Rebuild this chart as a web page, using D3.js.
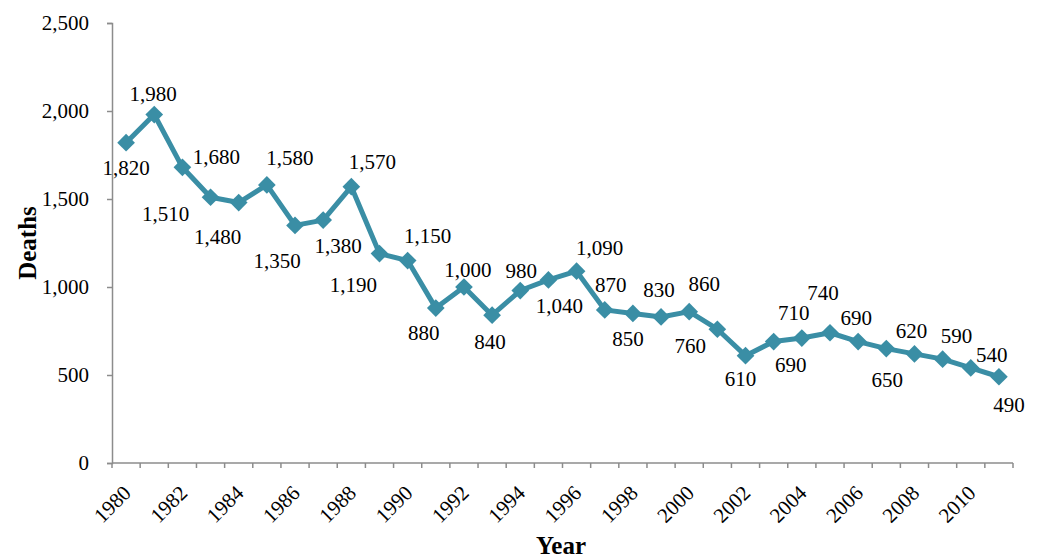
<!DOCTYPE html>
<html>
<head>
<meta charset="utf-8">
<script src="https://cdn.jsdelivr.net/npm/d3@7"></script>
<style>
  body { margin: 0; background: #fff; }
  svg { display: block; font-family: "Liberation Serif", "Times New Roman", serif; }
</style>
</head>
<body>
<svg id="chart" width="1039" height="558"></svg>
<script>
const years = d3.range(1980, 2012);
const deaths = [1820, 1980, 1680, 1510, 1480, 1580, 1350, 1380, 1570, 1190,
  1150, 880, 1000, 840, 980, 1040, 1090, 870, 850, 830,
  860, 760, 610, 690, 710, 740, 690, 650, 620, 590, 540, 490];
const yTicks = [0, 500, 1000, 1500, 2000, 2500];

// label placement next to each point (dx, dy in px)
const labelOffsets = [
  [0, 25], [-1, -21], [34, -11], [-45, 16], [-21, 34], [23, -27], [-18, 35], [15, 26],
  [21, -25], [-26, 31], [20, -25], [-12, 25], [4, -17], [-2, 26], [1, -20], [11, 26],
  [23, -24], [6, -25], [-5, 25], [-2, -27], [15, -28], [-27, 16], [-5, 23], [17, 23],
  [-8, -25], [-7, -40], [-2, -24], [1, 31], [-3, -23], [14, -24], [21, -13], [10, 28]
];

const width = 1039;
const height = 558;
const margin = { top: 23, right: 26, bottom: 95, left: 112 };
const lineColor = "#3a8ea5";
const axisColor = "#8c8c8c";
const fontSize = 21;

const svg = d3.select("#chart");

const x = d3.scaleBand()
  .domain(years)
  .range([margin.left, width - margin.right]);

const y = d3.scaleLinear()
  .domain([0, 2500])
  .range([height - margin.bottom, margin.top]);

// Y-Axis
const yAxis = svg.append("g")
  .attr("transform", `translate(${margin.left}, 0)`)
  .call(d3.axisLeft(y).tickValues(yTicks).tickSize(5).tickPadding(18).tickFormat(d3.format(",")));
yAxis.select(".domain").attr("stroke", axisColor).attr("stroke-width", 1.5);
yAxis.selectAll(".tick line").attr("stroke", axisColor).attr("stroke-width", 1.5);
yAxis.selectAll(".tick text").attr("font-size", fontSize).attr("fill", "#000")
  .attr("font-family", "Liberation Serif");

// X-Axis: ticks sit on category boundaries like a spreadsheet chart
const xAxisG = svg.append("g")
  .attr("transform", `translate(0, ${height - margin.bottom})`);
xAxisG.append("line")
  .attr("x1", margin.left).attr("x2", width - margin.right)
  .attr("stroke", axisColor).attr("stroke-width", 1.5);
xAxisG.selectAll(".bound")
  .data(years.concat([years[years.length - 1] + 1]))
  .enter()
  .append("line")
  .attr("class", "bound")
  .attr("x1", (d, i) => i < years.length ? x(d) : x(years[years.length - 1]) + x.bandwidth())
  .attr("x2", (d, i) => i < years.length ? x(d) : x(years[years.length - 1]) + x.bandwidth())
  .attr("y1", 0).attr("y2", 5)
  .attr("stroke", axisColor).attr("stroke-width", 1.5);
xAxisG.selectAll(".xlabel")
  .data(years.filter(d => d % 2 === 0))
  .enter()
  .append("text")
  .attr("class", "xlabel")
  .attr("transform", d => `translate(${x(d) + x.bandwidth() / 2 + 1}, 26) rotate(-45)`)
  .attr("text-anchor", "end")
  .attr("dy", "0.35em")
  .attr("font-size", fontSize)
  .text(d => d);

// Axis titles
svg.append("text")
  .attr("transform", `translate(27, ${(margin.top + height - margin.bottom) / 2}) rotate(-90)`)
  .attr("text-anchor", "middle")
  .attr("dy", "0.35em")
  .attr("font-size", 25)
  .attr("font-weight", "bold")
  .text("Deaths");

svg.append("text")
  .attr("x", 561)
  .attr("y", 554)
  .attr("text-anchor", "middle")
  .attr("font-size", 25)
  .attr("font-weight", "bold")
  .text("Year");

// Line
const cx = (d, i) => x(years[i]) + x.bandwidth() / 2;
const line = d3.line()
  .x(cx)
  .y(d => y(d));

svg.append("path")
  .datum(deaths)
  .attr("fill", "none")
  .attr("stroke", lineColor)
  .attr("stroke-width", 5)
  .attr("stroke-linejoin", "round")
  .attr("d", line);

// Diamond markers
svg.selectAll(".marker")
  .data(deaths)
  .enter()
  .append("path")
  .attr("class", "marker")
  .attr("d", d3.symbol().type(d3.symbolDiamond2).size(200))
  .attr("transform", (d, i) => `translate(${cx(d, i)}, ${y(d)})`)
  .attr("fill", lineColor);

// Data labels
svg.selectAll(".label")
  .data(deaths)
  .enter()
  .append("text")
  .attr("class", "label")
  .attr("x", (d, i) => cx(d, i) + labelOffsets[i][0])
  .attr("y", (d, i) => y(d) + labelOffsets[i][1])
  .attr("dy", "0.35em")
  .attr("text-anchor", "middle")
  .attr("font-size", fontSize)
  .text(d => d3.format(",")(d));
</script>
</body>
</html>
